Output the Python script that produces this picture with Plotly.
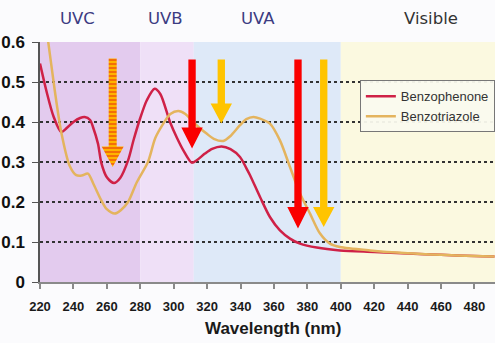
import plotly.graph_objects as go

# ---------------- data ----------------
wl_benzophenone = [220, 224, 228, 232.7, 236, 240, 244, 246.7, 250, 251.7, 254.7, 256.7, 260, 264.3,
                   268, 272.7, 276, 280, 284, 288.6, 292, 297.8, 302, 305.8, 310.8, 314, 318.7, 323,
                   328.7, 334, 339.7, 343.7, 345.7, 351.7, 357.6, 363.6, 369.6, 375.6, 385.6, 399.5,
                   420, 440, 460, 480, 492]
abs_benzophenone = [0.546, 0.475, 0.415, 0.375, 0.385, 0.40, 0.41, 0.4125, 0.405, 0.3875, 0.346, 0.298,
                    0.262, 0.2475, 0.26, 0.304, 0.355, 0.41, 0.455, 0.483, 0.47, 0.40, 0.36, 0.329,
                    0.2985, 0.305, 0.321, 0.333, 0.339, 0.332, 0.3125, 0.283, 0.267, 0.2125, 0.1625,
                    0.129, 0.1085, 0.096, 0.086, 0.079, 0.075, 0.071, 0.068, 0.065, 0.064]

wl_benzotriazole = [220, 224.8, 228.8, 232.7, 237.8, 241.7, 245, 248.7, 252, 256.7, 260, 264.7, 268.5,
                    272.7, 278, 284.6, 289, 293.8, 298, 302.8, 307, 311.7, 315.5, 319.7, 324, 329.7,
                    334, 339.7, 343.5, 347.7, 351.7, 357.6, 363.6, 369.6, 375.6, 381.6, 387.6, 393.5,
                    399.5, 417.5, 440, 460, 480, 492]
abs_benzotriazole = [0.74, 0.604, 0.48, 0.375, 0.29, 0.267, 0.266, 0.271, 0.245, 0.204, 0.182, 0.171,
                     0.18, 0.20, 0.25, 0.30, 0.36, 0.396, 0.42, 0.4275, 0.42, 0.40, 0.385, 0.371, 0.358,
                     0.3525, 0.365, 0.392, 0.407, 0.4125, 0.4085, 0.396, 0.354, 0.2875, 0.221, 0.171,
                     0.121, 0.096, 0.0875, 0.079, 0.072, 0.068, 0.065, 0.064]

region_edges = [220, 280, 312, 400, 492.3]
region_names = ["UVC", "UVB", "UVA", "Visible"]
region_label_x = [242.7, 295.4, 350.5, 454]

arrow_x = [263.5, 311, 328.5, 374.4, 389.8]
arrow_top = [0.5585, 0.556, 0.556, 0.556, 0.556]
arrow_head_base = [0.339, 0.386, 0.446, 0.1875, 0.1875]
arrow_tip = [0.2875, 0.3335, 0.396, 0.1335, 0.1375]
arrow_kind = ["striped", "red", "yellow", "red", "yellow"]

y_tickvals = [0, 0.1, 0.2, 0.3, 0.4, 0.5, 0.6]
y_ticktext = ["0", "0.1", "0.2", "0.3", "0.4", "0.5", "0.6"]
x_tickvals = [220, 240, 260, 280, 300, 320, 340, 360, 380, 400, 420, 440, 460, 480]

# ---------------- styles ----------------
region_colors = ["#e3cbee", "#efe0f7", "#dee9f8", "#fbf9e0"]
region_text_colors = ["#3c3c82", "#3c3c82", "#3c3c82", "#333333"]
arrow_colors = {"red": "#fa0000", "yellow": "#ffc400"}

fig = go.Figure()

for i, name in enumerate(region_names):
    fig.add_shape(type="rect", xref="x", yref="paper",
                  x0=region_edges[i], x1=region_edges[i + 1], y0=0, y1=1,
                  fillcolor=region_colors[i], line_width=0, layer="below")
    fig.add_annotation(x=region_label_x[i], xref="x", y=1.099, yref="paper",
                       text=name, showarrow=False, yanchor="middle",
                       font=dict(family="DejaVu Sans", size=16.5, color=region_text_colors[i]))

fig.add_trace(go.Scatter(x=wl_benzophenone, y=abs_benzophenone, mode="lines", name="Benzophenone",
                         line=dict(color="#cf2147", width=2.5, shape="spline", smoothing=0.8)))
fig.add_trace(go.Scatter(x=wl_benzotriazole, y=abs_benzotriazole, mode="lines", name="Benzotriazole",
                         line=dict(color="#e4b45e", width=2.5, shape="spline", smoothing=0.8)))

# arrows
hw, HW = 2.2, 6.4
for i in range(len(arrow_x)):
    x0 = arrow_x[i]
    w, W = (hw, HW) if arrow_kind[i] != "striped" else (2.4, 6.6)
    xs = [x0 - w, x0 + w, x0 + w, x0 + W, x0, x0 - W, x0 - w, x0 - w]
    ys = [arrow_top[i], arrow_top[i], arrow_head_base[i], arrow_head_base[i], arrow_tip[i],
          arrow_head_base[i], arrow_head_base[i], arrow_top[i]]
    if arrow_kind[i] == "striped":
        fig.add_trace(go.Scatter(x=xs, y=ys, mode="lines", fill="toself", showlegend=False,
                                 hoverinfo="skip", line=dict(width=0, color="rgba(0,0,0,0)"),
                                 fillcolor="#ffb000",
                                 fillpattern=dict(shape="-", fgcolor="#e82a10", bgcolor="#ffb400",
                                                  size=4, solidity=0.5)))
    else:
        c = arrow_colors[arrow_kind[i]]
        fig.add_trace(go.Scatter(x=xs, y=ys, mode="lines", fill="toself", showlegend=False,
                                 hoverinfo="skip", line=dict(width=0, color=c), fillcolor=c))

fig.add_annotation(x=0.513, xref="paper", y=-0.193, yref="paper", text="<b>Wavelength (nm)</b>",
                   showarrow=False, yanchor="middle",
                   font=dict(family="Liberation Sans", size=17, color="#1a1a1a"))

fig.update_layout(
    width=495, height=343,
    margin=dict(l=40, r=0, t=42, b=61, autoexpand=False),
    paper_bgcolor="#fbfbfd", plot_bgcolor="rgba(0,0,0,0)",
    showlegend=True,
    legend=dict(x=0.703, y=0.84, xanchor="left", yanchor="top",
                bgcolor="rgba(250,250,238,0.95)", bordercolor="#777777", borderwidth=1,
                font=dict(family="Liberation Sans", size=13, color="#333333"),
                itemwidth=30, tracegroupgap=0),
)
fig.update_xaxes(range=[220, 492.3], tickvals=x_tickvals, showgrid=False, zeroline=False,
                 showline=True, linecolor="#8a8a8a", linewidth=2,
                 ticks="outside", ticklen=5, tickcolor="#8a8a8a", tickwidth=1.5,
                 ticklabelstandoff=6,
                 tickfont=dict(family="Liberation Sans", size=13, color="#1a1a1a", weight="bold"))
fig.update_yaxes(range=[0, 0.6], tickvals=y_tickvals, ticktext=y_ticktext,
                 showgrid=True, gridcolor="#333333", griddash="dot", gridwidth=1.5, zeroline=False,
                 showline=True, linecolor="#555555", linewidth=1.5,
                 ticks="outside", ticklen=6, tickcolor="#555555",
                 ticklabelstandoff=4,
                 tickfont=dict(family="Liberation Sans", size=17, color="#111111", weight="bold"))

fig.write_html("out.html")
